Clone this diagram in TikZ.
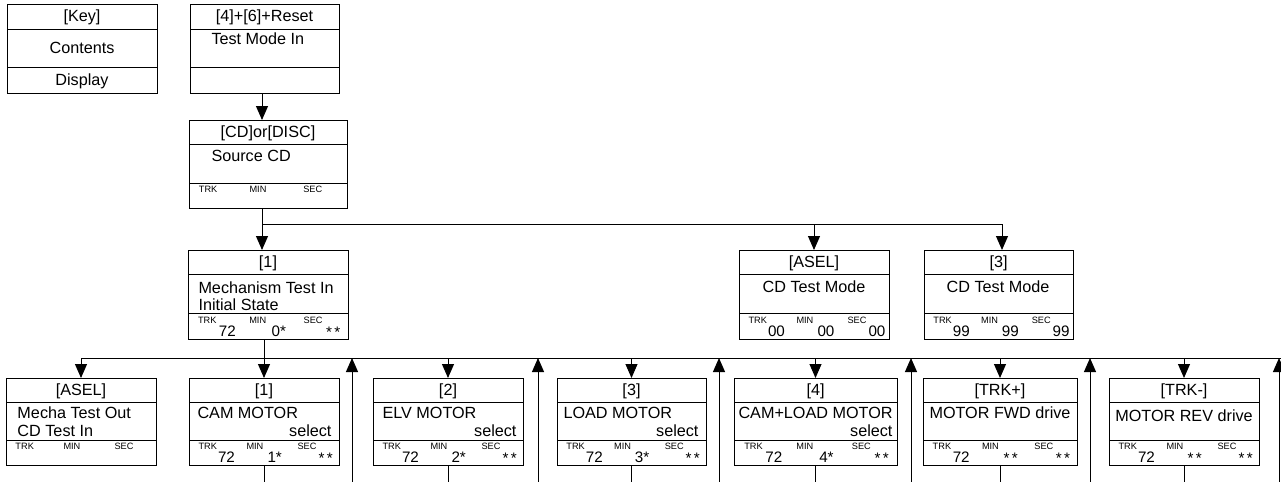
\documentclass[tikz,border=0pt]{standalone}
\usepackage{fontspec}
\setmainfont{Liberation Sans}
\usetikzlibrary{calc,arrows.meta}

% one panel: name, left, right, top, key line, display line, bottom, key text
\newcommand{\panel}[8]{%
  \node[box, minimum width={(#3-#2)/2}, minimum height={(#7-#4)/2}] (#1) at ({(#2+#3)/2},{(#4+#7)/2}) {};
  \draw (#1.west |- 0,#5) -- (#1.east |- 0,#5);
  \draw (#1.west |- 0,#6) -- (#1.east |- 0,#6);
  \node[hd] (#1-key) at ({(#2+#3)/2},{(#4+#5)/2+5}) {#8};
}
% display row: name, trk, min, sec
\newcommand{\readout}[4]{%
  \foreach \f/\g/\lab/\val [count=\i] in {0.06/0.19/TRK/{#2},0.38/0.52/MIN/{#3},0.72/0.86/SEC/{#4}} {
    \node[lbl] (#1-l\i) at ($(#1.south west)!\f!(#1.south east)+(0,-16)$) {\lab};
    \node[val] (#1-v\i) at ($(#1.south west)!\g!(#1.south east)+(0,-3)$) {\val};
  }
}
\newcommand{\dstars}{\raisebox{-0.8pt}{*\hspace{1.2pt}*}}

\begin{document}
\begin{tikzpicture}[x=0.5pt, y=-0.5pt, line width=0.5pt,
    box/.style={draw, inner sep=0pt, outer sep=0pt},
    hd/.style={font=\fontsize{8.1}{9.5}\selectfont, anchor=base, inner sep=0pt},
    txt/.style={font=\fontsize{8.1}{9.5}\selectfont, anchor=base west, inner sep=0pt},
    lbl/.style={font=\fontsize{4.6}{5.5}\selectfont, anchor=base west, inner sep=0pt},
    val/.style={font=\fontsize{7.6}{8.5}\selectfont, anchor=base west, inner sep=0pt},
    arr/.style={-{Triangle[width=6pt,length=7pt]}}]
    \useasboundingbox (0,0) rectangle (1281,482);

    % Key
    \panel{key}{7}{157}{4}{29}{67}{93}{[Key]}
    \node[hd] (key-c) at (82,54) {Contents};
    \node[hd] (key-d) at (82,85) {Display};

    % Entry
    \panel{testin}{190}{339}{4}{29}{67}{93}{[4]+[6]+Reset}
    \node[txt] (testin-c) at (211,44) {Test Mode In};
    \panel{source}{189}{347}{120}{144}{183}{208}{[CD]or[DISC]}
    \node[txt] (source-c) at (211,161) {Source CD};
    \readout{source}{}{}{}

    % Second level
    \panel{mech}{188}{348}{250}{274}{313}{339}{[1]}
    \node[txt] (mech-c1) at (198,293) {Mechanism Test In};
    \node[txt] (mech-c2) at (198,310) {Initial State};
    \readout{mech}{72}{0*}{\dstars}
    \panel{cdasel}{739}{889}{250}{274}{313}{339}{[ASEL]}
    \node[hd] (cdasel-c) at (814,292) {CD Test Mode};
    \readout{cdasel}{00}{00}{00}
    \panel{cdnine}{924}{1073}{250}{274}{313}{339}{[3]}
    \node[hd] (cdnine-c) at (998,292) {CD Test Mode};
    \readout{cdnine}{99}{99}{99}

    % Mechanism test steps
    \panel{mout}{6}{156}{378}{402}{440}{465}{[ASEL]}
    \node[txt] (mout-c1) at (17,418) {Mecha Test Out};
    \node[txt] (mout-c2) at (17,436) {CD Test In};
    \readout{mout}{}{}{}
    \panel{cam}{189}{339}{378}{402}{440}{465}{[1]}
    \node[txt] (cam-c1) at (197,418) {CAM MOTOR};
    \node[txt, anchor=base east] (cam-c2) at (332,436) {select};
    \readout{cam}{72}{1*}{\dstars}
    \panel{elv}{373}{523}{378}{402}{440}{465}{[2]}
    \node[txt] (elv-c1) at (382,418) {ELV MOTOR};
    \node[txt, anchor=base east] (elv-c2) at (517,436) {select};
    \readout{elv}{72}{2*}{\dstars}
    \panel{load}{557}{706}{378}{402}{440}{465}{[3]}
    \node[txt] (load-c1) at (563,418) {LOAD MOTOR};
    \node[txt, anchor=base east] (load-c2) at (699,436) {select};
    \readout{load}{72}{3*}{\dstars}
    \panel{camload}{734}{897}{378}{402}{440}{465}{[4]}
    \node[txt] (camload-c1) at (738,418) {CAM+LOAD MOTOR};
    \node[txt, anchor=base east] (camload-c2) at (893,436) {select};
    \readout{camload}{72}{4*}{\dstars}
    \panel{fwd}{923}{1077}{378}{402}{440}{465}{[TRK+]}
    \node[hd] (fwd-c) at (1000,418) {MOTOR FWD drive};
    \readout{fwd}{72}{\dstars}{\dstars}
    \panel{rev}{1109}{1259}{378}{402}{440}{465}{[TRK-]}
    \node[hd] (rev-c) at (1184,421) {MOTOR REV drive};
    \readout{rev}{72}{\dstars}{\dstars}

    % Flow
    \draw[arr] (testin.south -| 262,0) -- (source.north -| 262,0);
    \draw[arr] (source.south -| 262,0) -- (mech.north -| 262,0);
    \coordinate (fork) at (262,224);
    \draw[arr] (fork) -| (cdasel.north);
    \draw[arr] (fork) -| (cdnine.north -| 1002,0);

    % Rail to the steps
    \coordinate (rail) at (82,358);
    \draw (rail) -- (1290,358);
    \draw[arr] (mech.south -| cam.north) -- (cam.north);
    \foreach \n in {mout,elv,load,camload,fwd,rev}
        \draw[arr] (rail -| \n.north) -- (\n.north);
    \foreach \n in {cam,elv,load,camload,fwd,rev}
        \draw (\n.south) -- (\n.south |- 0,490);
    \foreach \x in {352,538,719,911,1090,1279}
        \draw[arr] (\x,490) -- (rail -| \x,0);
\end{tikzpicture}
\end{document}
